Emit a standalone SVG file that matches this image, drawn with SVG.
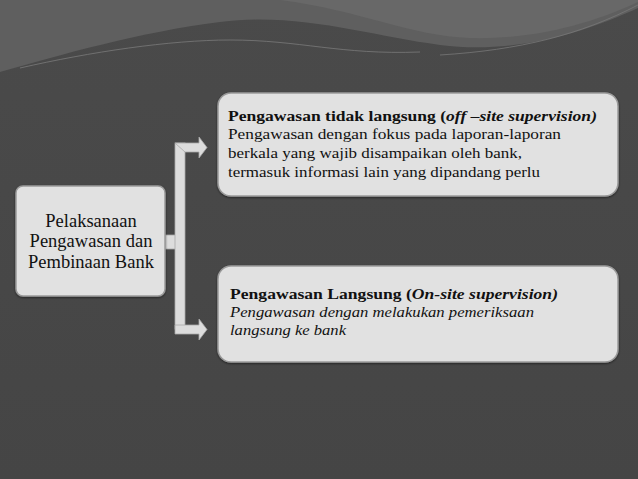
<svg xmlns="http://www.w3.org/2000/svg" width="638" height="479" viewBox="0 0 638 479">
<defs>
<style>
.box{fill:#e1e1e1;stroke:#9a9a9a;stroke-width:1.5}
text{font-family:'Liberation Serif','DejaVu Serif',serif;fill:#111}
.conn{fill:#dcdcdc;stroke:#a8a8a8;stroke-width:0.8}
</style>
<linearGradient id="bg" x1="0" y1="0" x2="0" y2="1">
<stop offset="0" stop-color="#4a4a4a"/>
<stop offset="1" stop-color="#454545"/>
</linearGradient>
<filter id="sh" x="-5%" y="-5%" width="110%" height="115%">
<feDropShadow dx="0" dy="1" stdDeviation="1.2" flood-color="#000" flood-opacity="0.5"/>
</filter>
</defs>
<rect width="638" height="479" fill="url(#bg)"/>
<g id="waves">
<path d="M0,0 H638 V8 C590,30 520,55 440,45 C370,36 300,12 220,22 C140,32 60,55 0,72 Z" fill="#5f5f5f"/>
<path d="M280,0 H638 V2 C600,20 540,40 470,38 C410,36 360,10 280,0 Z" fill="#686868"/>
<path d="M20,68 C90,52 170,40 230,40 C300,40 340,55 420,52" fill="none" stroke="#7a7a7a" stroke-width="0.8"/>
<path d="M440,55 C520,50 580,35 638,5" fill="none" stroke="#777" stroke-width="0.8"/>
</g>
<g id="connectors">
<rect class="conn" x="165" y="235" width="11" height="14"/>
<rect class="conn" x="175" y="143" width="10" height="186"/>
<path class="conn" d="M175,143 H199 V137 L207,147.5 L199,158 V152 H185 Z"/>
<path class="conn" d="M175,325 H199 V319 L207,329.5 L199,340 V334 H175 Z"/>
</g>
<g id="node-left" font-family="Liberation Serif, serif">
<rect class="box" x="16" y="186" width="149" height="110" rx="7" filter="url(#sh)"/>
<text font-family="Liberation Serif, serif" font-size="18.5" text-anchor="middle" x="91" y="227">Pelaksanaan</text>
<text font-family="Liberation Serif, serif" font-size="18.5" text-anchor="middle" x="91" y="247">Pengawasan dan</text>
<text font-family="Liberation Serif, serif" font-size="18.5" text-anchor="middle" x="91" y="268">Pembinaan Bank</text>
</g>
<g id="node-offsite" font-family="Liberation Serif, serif">
<rect class="box" x="218" y="93" width="400" height="103" rx="13" filter="url(#sh)"/>
<text font-family="Liberation Serif, serif" font-size="15.5" font-weight="bold" x="228" y="121" textLength="369" lengthAdjust="spacingAndGlyphs">Pengawasan tidak langsung (<tspan font-style="italic">off –site supervision)</tspan></text>
<text font-family="Liberation Serif, serif" font-size="15.5" x="228" y="139" textLength="333" lengthAdjust="spacingAndGlyphs">Pengawasan dengan fokus  pada laporan-laporan</text>
<text font-family="Liberation Serif, serif" font-size="15.5" x="228" y="158" textLength="294" lengthAdjust="spacingAndGlyphs">berkala  yang wajib disampaikan oleh bank,</text>
<text font-family="Liberation Serif, serif" font-size="15.5" x="228" y="177" textLength="312" lengthAdjust="spacingAndGlyphs">termasuk informasi lain yang dipandang perlu</text>
</g>
<g id="node-onsite" font-family="Liberation Serif, serif">
<rect class="box" x="218" y="266" width="400" height="96" rx="13" filter="url(#sh)"/>
<text font-family="Liberation Serif, serif" font-size="15.5" font-weight="bold" x="230" y="299" textLength="328" lengthAdjust="spacingAndGlyphs">Pengawasan Langsung (<tspan font-style="italic">On-site supervision)</tspan></text>
<text font-family="Liberation Serif, serif" font-size="15.5" font-style="italic" x="230" y="317" textLength="304" lengthAdjust="spacingAndGlyphs">Pengawasan dengan melakukan pemeriksaan</text>
<text font-family="Liberation Serif, serif" font-size="15.5" font-style="italic" x="230" y="335" textLength="116" lengthAdjust="spacingAndGlyphs">langsung ke bank</text>
</g>
</svg>
